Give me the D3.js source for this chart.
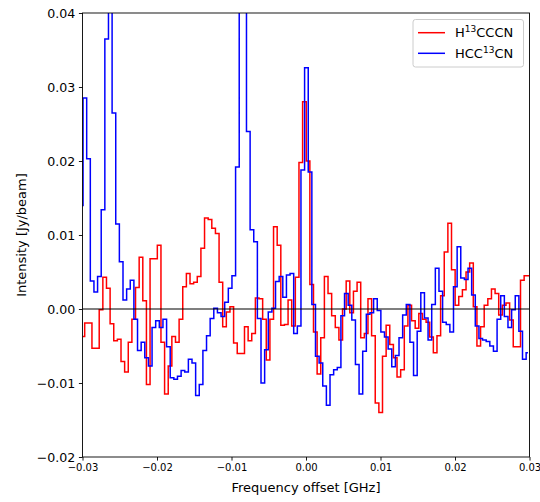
<!DOCTYPE html>
<html><head><meta charset="utf-8">
<script src="https://cdn.jsdelivr.net/npm/d3@7"></script>
<style>body{margin:0;background:#fff} text{font-family:"DejaVu Sans",sans-serif}</style>
</head><body><svg id="c" width="540" height="502"></svg>
<script>
// channel grid (GHz)
const chanWidth = 0.0004875;
const redStart = -0.02995;
const blueStart = -0.03017;

// H13CCCN spectrum (Jy/beam), one value per channel
const redValues = [
-0.0037,-0.0019,-0.0019,-0.0053,-0.0053,-0.0001,0.0043,0.0028,-0.0020,-0.0043,
-0.0041,-0.0071,-0.0085,-0.0045,-0.0014,0.0029,0.0070,0.0011,-0.0102,0.0068,
0.0068,0.0086,-0.0045,-0.0115,-0.0077,-0.0037,-0.0045,-0.0014,0.0030,0.0048,
0.0034,0.0036,0.0044,0.0082,0.0123,0.0121,0.0109,0.0102,0.0036,-0.0024,
-0.0004,0.0003,-0.0046,-0.0060,-0.0060,-0.0024,-0.0043,-0.0033,0.0015,0.0014,
-0.0014,-0.0069,-0.0014,0.0111,0.0086,-0.0022,-0.0021,0.0012,-0.0023,0.0043,
0.0198,0.0280,0.0200,0.0033,-0.0031,-0.0088,-0.0039,0.0044,0.0021,-0.0009,
-0.0025,-0.0042,0.0000,0.0038,-0.0005,0.0024,0.0036,-0.0039,-0.0033,0.0014,
-0.0036,-0.0127,-0.0140,-0.0064,-0.0022,-0.0048,-0.0066,-0.0092,-0.0082,-0.0023,
0.0005,-0.0016,-0.0026,-0.0006,-0.0014,-0.0018,-0.0038,-0.0059,-0.0036,0.0018,
0.0077,0.0116,0.0053,0.0005,0.0017,0.0026,0.0050,0.0062,0.0003,-0.0050,
-0.0024,0.0005,0.0014,0.0027,0.0021,-0.0008,0.0005,0.0008,-0.0015,-0.0051,
-0.0051,0.0039,0.0045,0.0045
];

// HCC13CN spectrum (Jy/beam), one value per channel
const blueValues = [
0.0140,0.0285,0.0203,0.0038,0.0023,0.0044,0.0134,0.0365,0.0480,0.0265,
0.0115,0.0064,0.0012,0.0027,0.0039,-0.0014,-0.0056,-0.0045,-0.0066,-0.0077,
-0.0025,-0.0016,-0.0025,-0.0014,-0.0051,-0.0093,-0.0095,-0.0091,-0.0083,-0.0085,
-0.0068,-0.0073,-0.0117,-0.0102,-0.0056,-0.0036,-0.0013,0.0001,-0.0005,-0.0010,
0.0009,0.0028,0.0045,0.0192,0.0450,0.0450,0.0240,0.0107,0.0091,-0.0013,
-0.0100,-0.0055,-0.0004,0.0001,0.0037,0.0044,0.0016,0.0046,0.0048,-0.0033,
-0.0023,0.0188,0.0326,0.0185,0.0006,-0.0064,-0.0073,-0.0104,-0.0130,-0.0089,
-0.0082,-0.0079,-0.0009,0.0021,0.0005,-0.0015,-0.0075,-0.0115,-0.0057,-0.0007,
-0.0005,0.0014,-0.0002,-0.0031,-0.0038,-0.0054,-0.0078,-0.0063,-0.0039,-0.0008,
0.0006,-0.0045,-0.0090,-0.0030,0.0022,-0.0012,-0.0042,0.0006,0.0055,0.0024,
-0.0018,-0.0021,-0.0031,0.0030,0.0084,0.0042,0.0040,0.0055,0.0019,-0.0023,
-0.0040,-0.0042,-0.0044,-0.0050,-0.0057,-0.0014,0.0018,-0.0010,-0.0025,-0.0001,
0.0018,-0.0030,-0.0068,-0.0059
];

const xTicks = [-0.03,-0.02,-0.01,0.00,0.01,0.02,0.03];
const yTicks = [-0.02,-0.01,0.00,0.01,0.02,0.03,0.04];
const seriesLabels = [["H","13","CCCN"],["HCC","13","CN"]];
const seriesColors = ["#ff0000","#0000ff"];

const svg = d3.select("#c");
const L=82.5, R=529.5, T=13, B=457;
const x = d3.scaleLinear().domain([-0.03,0.03]).range([L,R]);
const y = d3.scaleLinear().domain([-0.02,0.04]).range([B,T]);

svg.append("clipPath").attr("id","clip").append("rect")
  .attr("x",L).attr("y",T).attr("width",R-L).attr("height",B-T);

const line = d3.line().curve(d3.curveStep).x(d=>x(d[0])).y(d=>y(d[1]));
const redData = redValues.map((v,i)=>[redStart+i*chanWidth, v]);
const blueData = blueValues.map((v,i)=>[blueStart+i*chanWidth, v]);

const g = svg.append("g").attr("clip-path","url(#clip)");
g.append("path").datum(redData).attr("d",line).attr("fill","none")
  .attr("stroke",seriesColors[0]).attr("stroke-width",1.5).attr("stroke-linejoin","miter");
g.append("path").datum(blueData).attr("d",line).attr("fill","none")
  .attr("stroke",seriesColors[1]).attr("stroke-width",1.5).attr("stroke-linejoin","miter");
// zero line
g.append("line").attr("x1",L).attr("x2",R).attr("y1",y(0)).attr("y2",y(0))
  .attr("stroke","#000").attr("stroke-width",1.2);

// axes
const fmt = d3.format(".2f");
const xa = svg.append("g").attr("transform",`translate(0,${B})`)
  .call(d3.axisBottom(x).tickValues(xTicks).tickFormat(fmt).tickSize(3.6).tickPadding(3.4));
xa.select(".domain").remove();
xa.selectAll("text").attr("font-size",10).attr("font-family","DejaVu Sans").attr("fill","#000");
xa.selectAll("line").attr("stroke","#000").attr("stroke-width",0.9);

const ya = svg.append("g").attr("transform",`translate(${L},0)`)
  .call(d3.axisLeft(y).tickValues(yTicks).tickFormat(fmt).tickSize(3.6).tickPadding(3.6));
ya.select(".domain").remove();
ya.selectAll("text").attr("font-size",12.6).attr("font-family","DejaVu Sans").attr("fill","#000");
ya.selectAll("line").attr("stroke","#000").attr("stroke-width",0.9);

// spines
svg.append("rect").attr("x",L).attr("y",T).attr("width",R-L).attr("height",B-T)
  .attr("fill","none").attr("stroke","#000").attr("stroke-width",0.9);

// axis labels
svg.append("text").attr("x",(L+R)/2).attr("y",492).attr("text-anchor","middle")
  .attr("font-size",13).text("Frequency offset [GHz]");
svg.append("text").attr("transform",`translate(26,${(T+B)/2}) rotate(-90)`)
  .attr("text-anchor","middle").attr("font-size",13).text("Intensity [Jy/beam]");

// legend
const lg = svg.append("g");
lg.append("rect").attr("x",413).attr("y",19.5).attr("width",110.5).attr("height",47.5)
  .attr("rx",2.5).attr("fill","#fff").attr("fill-opacity",0.8)
  .attr("stroke","#cccccc").attr("stroke-width",1);
seriesLabels.forEach((parts,i)=>{
  const cy = 32.7 + i*20.6;
  lg.append("line").attr("x1",418).attr("x2",445).attr("y1",cy).attr("y2",cy)
    .attr("stroke",seriesColors[i]).attr("stroke-width",1.5);
  const t = lg.append("text").attr("x",455).attr("y",cy+4.7).attr("font-size",13);
  t.append("tspan").text(parts[0]);
  t.append("tspan").attr("font-size",9).attr("dy",-5).text(parts[1]);
  t.append("tspan").attr("dy",5).text(parts[2]);
});
</script></body></html>
